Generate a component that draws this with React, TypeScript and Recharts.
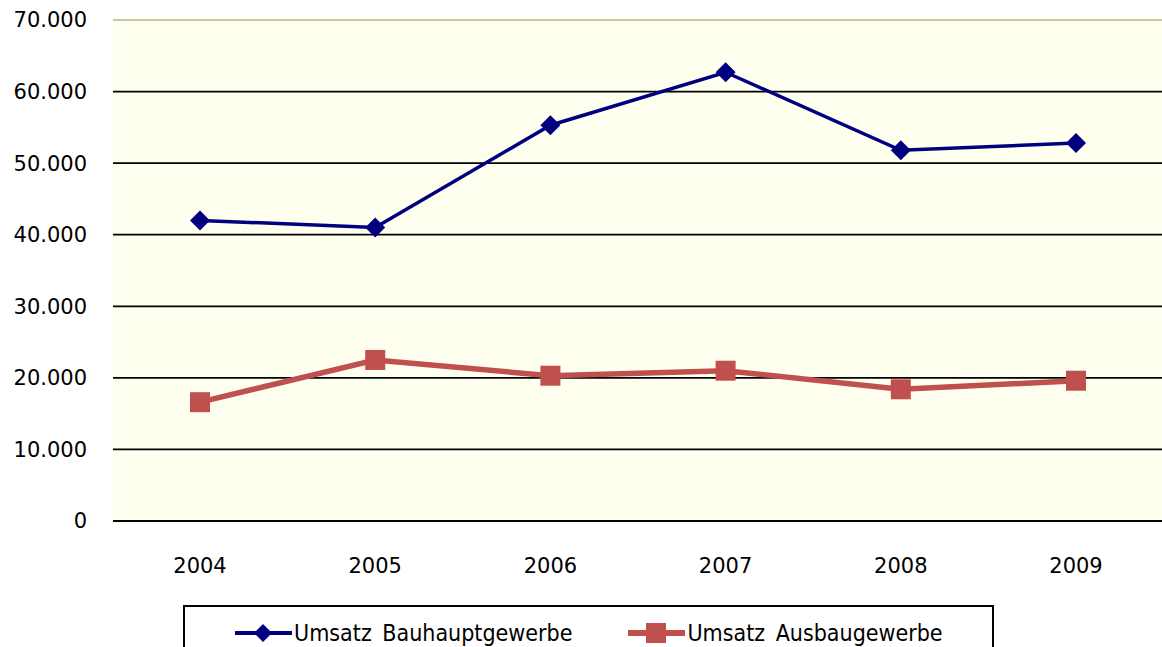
import React from 'react';
import { LineChart, Line, XAxis, YAxis, CartesianGrid, Legend, ReferenceLine } from 'recharts';

const YEARS = ['2004', '2005', '2006', '2007', '2008', '2009'];
const BAUHAUPT = [42000, 41000, 55300, 62700, 51800, 52800];
const AUSBAU = [16600, 22500, 20300, 21000, 18400, 19600];
const Y_TICKS = [0, 10000, 20000, 30000, 40000, 50000, 60000, 70000];
const NAME_BAU = 'Umsatz Bauhauptgewerbe';
const NAME_AUS = 'Umsatz Ausbaugewerbe';

const data = YEARS.map((y, i) => ({ year: y, bau: BAUHAUPT[i], aus: AUSBAU[i] }));

const BLUE = '#000080';
const RED = '#C0504D';
const FONT = '"DejaVu Sans", sans-serif';
const LEGEND_FONT = '"DejaVu Sans Condensed", "DejaVu Sans", sans-serif';

const fmt = (v: number) => String(v).replace(/\B(?=(\d{3})+(?!\d))/g, '.');

const Diamond = (props: any) => {
  const { cx, cy } = props;
  if (cx == null || cy == null) return null;
  const r = 10;
  return <polygon points={`${cx},${cy - r} ${cx + r},${cy} ${cx},${cy + r} ${cx - r},${cy}`} fill={BLUE} />;
};

const Square = (props: any) => {
  const { cx, cy } = props;
  if (cx == null || cy == null) return null;
  const s = 10;
  return <rect x={cx - s} y={cy - s} width={2 * s} height={2 * s} fill={RED} />;
};

const LegendBox = () => (
  <div
    style={{
      border: '2px solid #000',
      width: 811,
      height: 60,
      boxSizing: 'border-box',
      display: 'flex',
      alignItems: 'flex-start',
      paddingTop: 13,
      paddingLeft: 50,
      fontFamily: LEGEND_FONT,
      fontSize: 23,
      color: '#000',
    }}
  >
    <div style={{ display: 'flex', alignItems: 'center' }}>
      <svg width={57} height={22}>
        <line x1={0} y1={11} x2={57} y2={11} stroke={BLUE} strokeWidth={4} />
        <polygon points="28,2 37,11 28,20 19,11" fill={BLUE} />
      </svg>
      <span style={{ marginLeft: 2, wordSpacing: 4 }}>{NAME_BAU}</span>
    </div>
    <div style={{ display: 'flex', alignItems: 'center', marginLeft: 56 }}>
      <svg width={57} height={22}>
        <line x1={0} y1={11} x2={57} y2={11} stroke={RED} strokeWidth={6} />
        <rect x={18} y={1} width={20} height={20} fill={RED} />
      </svg>
      <span style={{ marginLeft: 2, wordSpacing: 4 }}>{NAME_AUS}</span>
    </div>
  </div>
);

export default function App() {
  return (
    <div style={{ position: 'absolute', left: 0, top: 0, width: 1162, height: 647, overflow: 'hidden', background: '#fff' }}>
      <LineChart width={1164} height={647} data={data} margin={{ top: 20, right: 0, left: 0, bottom: 0 }}>
        <CartesianGrid vertical={false} fill="#FFFFF0" stroke="#000" strokeWidth={1.8} />
        <XAxis
          dataKey="year"
          axisLine={{ stroke: '#000', strokeWidth: 2 }}
          tickLine={false}
          tickSize={8}
          tickMargin={29}
          height={66}
          padding={{ left: 87, right: 88 }}
          tick={{ fill: '#000', fontSize: 21, fontFamily: FONT }}
        />
        <YAxis
          width={113}
          domain={[0, 70000]}
          ticks={Y_TICKS}
          tickFormatter={fmt}
          axisLine={false}
          tickLine={false}
          tickSize={6}
          tickMargin={20}
          interval={0}
          tick={{ fill: '#000', fontSize: 21, fontFamily: FONT }}
        />
        <ReferenceLine y={70000} stroke="#C8C89A" strokeWidth={2} />
        <Legend
          verticalAlign="bottom"
          content={<LegendBox />}
          wrapperStyle={{ position: 'absolute', left: 183, top: 605, width: 811, height: 60, bottom: 'auto' }}
        />
        <Line
          type="linear"
          dataKey="bau"
          name={NAME_BAU}
          stroke={BLUE}
          strokeWidth={3.5}
          dot={<Diamond />}
          activeDot={false}
          isAnimationActive={false}
        />
        <Line
          type="linear"
          dataKey="aus"
          name={NAME_AUS}
          stroke={RED}
          strokeWidth={5.5}
          dot={<Square />}
          activeDot={false}
          isAnimationActive={false}
        />
      </LineChart>
    </div>
  );
}
